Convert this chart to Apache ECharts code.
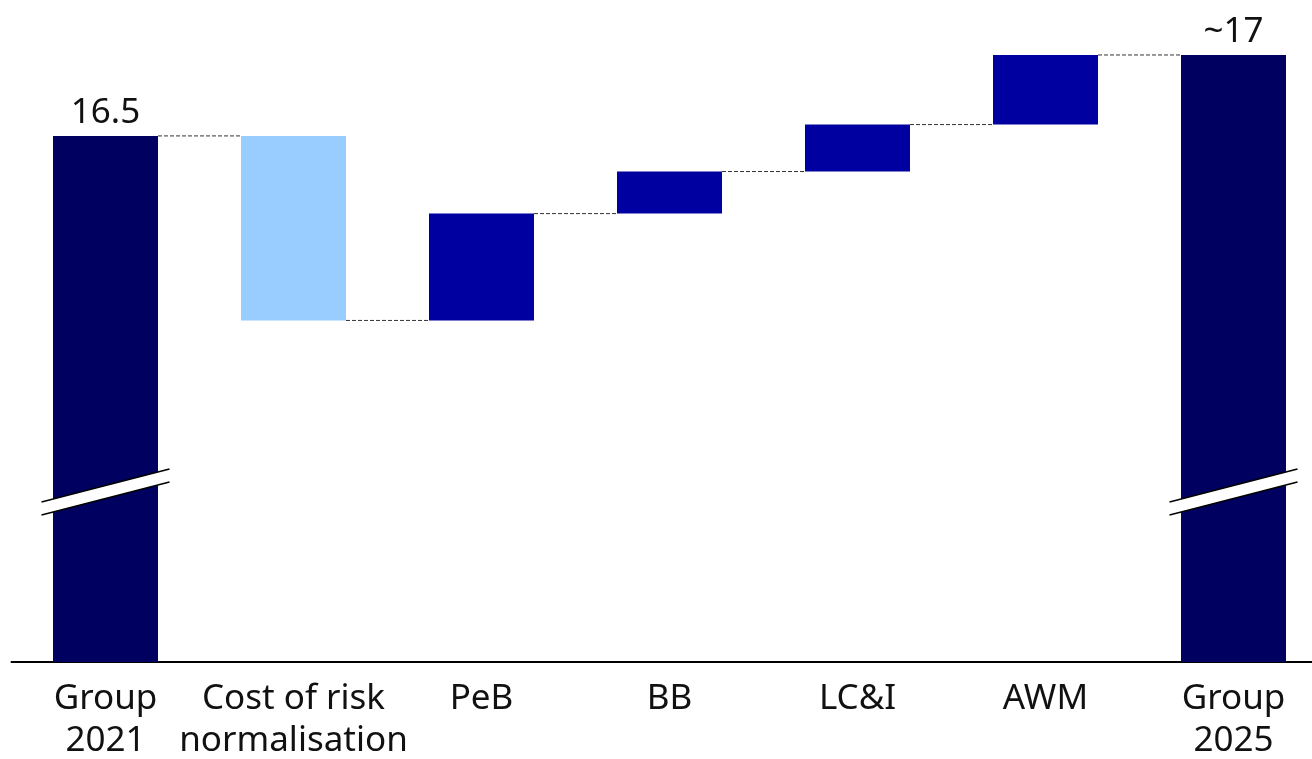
<!DOCTYPE html>
<html>
<head>
<meta charset="utf-8">
<style>
  html, body { margin: 0; padding: 0; background: #fff; }
  #chart { width: 1312px; height: 759px; }
</style>
<script src="https://cdn.jsdelivr.net/npm/echarts@6/dist/echarts.min.js"></script>
</head>
<body>
<div id="chart"></div>
<script>
// Waterfall: starting total, step contributions, ending total
const categories = ['Group\n2021', 'Cost of risk\nnormalisation', 'PeB', 'BB', 'LC&I', 'AWM', 'Group\n2025'];
const startTotal = 16.5;
const steps = [-1.14, 0.66, 0.26, 0.29, 0.43];
const endTotal = 17;
const totalLabels = ['16.5', '~17'];
const breakValue = 14.3;

const COLOR_TOTAL = '#000060';
const COLOR_UP = '#0000A0';
const COLOR_DOWN = '#99CCFF';
const BAR_W = 105;

// Running totals -> invisible base + visible height for each bar
const base = [0];
const height = [startTotal];
const levels = [startTotal];
let run = startTotal;
steps.forEach(d => {
  const next = run + d;
  base.push(Math.min(run, next));
  height.push(Math.abs(d));
  run = next;
  levels.push(run);
});
base.push(0);
height.push(endTotal);

const lastIdx = categories.length - 1;
const barColors = categories.map((c, i) => {
  if (i === 0 || i === lastIdx) return COLOR_TOTAL;
  return steps[i - 1] < 0 ? COLOR_DOWN : COLOR_UP;
});

const font = '"Noto Sans", sans-serif';
const chart = echarts.init(document.getElementById('chart'), null, { renderer: 'canvas' });

chart.setOption({
  animation: false,
  grid: {
    left: 11.5, width: 1316, top: 14.5, bottom: 97,
    containLabel: false, outerBoundsMode: 'none'
  },
  xAxis: {
    type: 'category',
    data: categories,
    axisLine: { lineStyle: { color: '#000', width: 2 } },
    axisTick: { show: false },
    axisLabel: {
      interval: 0, color: '#111', fontFamily: font, fontSize: 35,
      lineHeight: 42, margin: 16
    }
  },
  yAxis: { type: 'value', min: 13.25, max: 17.25, show: false, splitLine: { show: false } },
  series: [
    {
      name: 'base', type: 'bar', stack: 'w', barWidth: BAR_W,
      itemStyle: { color: 'transparent' }, silent: true,
      data: base
    },
    {
      name: 'value', type: 'bar', stack: 'w', barWidth: BAR_W,
      data: height.map((v, i) => ({ value: v, itemStyle: { color: barColors[i] } })),
      label: {
        show: true, position: 'top', distance: 5,
        color: '#111', fontFamily: font, fontSize: 35,
        formatter: p => p.dataIndex === 0 ? totalLabels[0]
          : (p.dataIndex === lastIdx ? totalLabels[1] : '')
      }
    },
    {
      // dashed connectors between consecutive bars
      name: 'connectors', type: 'custom', silent: true, z: 1,
      data: levels.map((lv, i) => [i, lv]),
      renderItem: (params, api) => {
        const i = api.value(0);
        const a = api.coord([i, api.value(1)]);
        const b = api.coord([i + 1, api.value(1)]);
        return {
          type: 'line',
          shape: { x1: a[0] + BAR_W / 2, y1: a[1], x2: b[0] - BAR_W / 2, y2: b[1] },
          style: { stroke: '#333', lineWidth: 1, lineDash: [4, 2] }
        };
      }
    },
    {
      // axis-break marks across the two total bars
      name: 'breaks', type: 'custom', silent: true, z: 5,
      data: [[0, breakValue], [lastIdx, breakValue]],
      renderItem: (params, api) => {
        const c = api.coord([api.value(0), api.value(1)]);
        const half = BAR_W / 2 + 11.5;
        const rise = 16.5, gap = 6.5;
        const lx = c[0] - half, rx = c[0] + half;
        const y1l = c[1] - gap + rise, y1r = c[1] - gap - rise;
        const y2l = c[1] + gap + rise, y2r = c[1] + gap - rise;
        return {
          type: 'group',
          children: [
            { type: 'polygon', shape: { points: [[lx, y1l], [rx, y1r], [rx, y2r], [lx, y2l]] },
              style: { fill: '#fff' } },
            { type: 'line', shape: { x1: lx, y1: y1l, x2: rx, y2: y1r },
              style: { stroke: '#000', lineWidth: 1.5 } },
            { type: 'line', shape: { x1: lx, y1: y2l, x2: rx, y2: y2r },
              style: { stroke: '#000', lineWidth: 1.5 } }
          ]
        };
      }
    }
  ]
});
</script>
</body>
</html>
